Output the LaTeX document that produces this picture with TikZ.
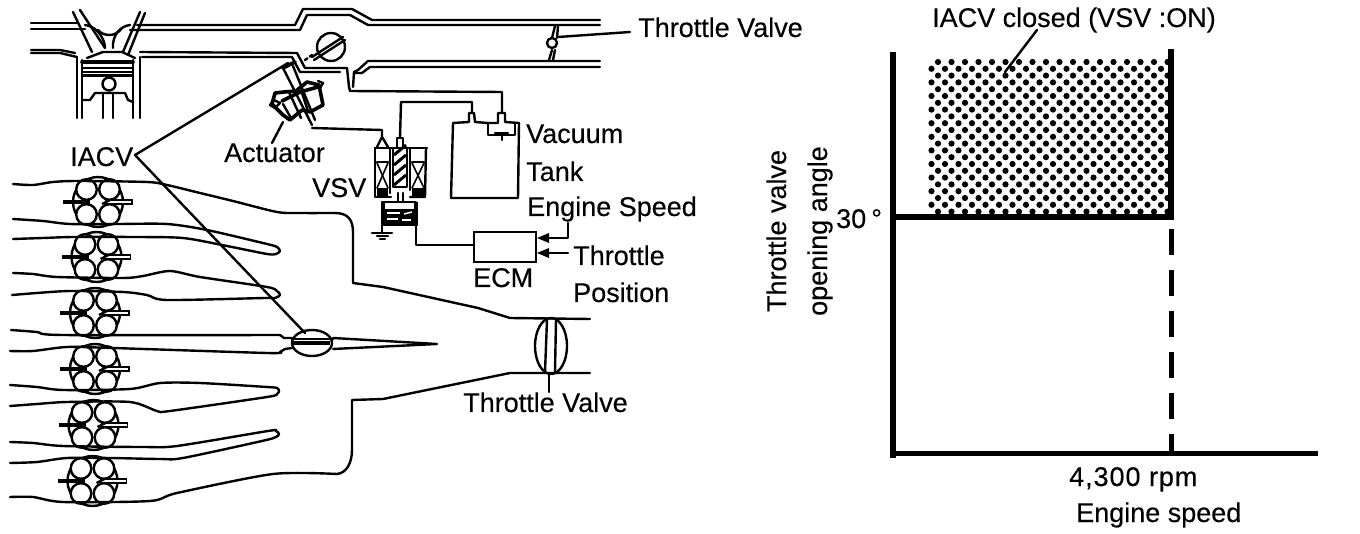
\documentclass[tikz,border=0pt]{standalone}
\usepackage{fontspec}
\setmainfont[FakeBold=0.3]{Liberation Sans}
\tikzset{
  ln/.style={line width=2.4pt,line join=round,line cap=round},
  thn/.style={line width=1.6pt,line join=round,line cap=round},
  hvy/.style={line width=3.6pt,line join=round,line cap=round},
  lab/.style={inner sep=0pt,anchor=base west,font=\fontsize{27}{30}\selectfont},
  labr/.style={inner sep=0pt,anchor=base,rotate=90,font=\fontsize{27}{30}\selectfont},
  axis/.style={line width=6pt},
  rnr/.style={ln,smooth,tension=.45},
}
\newcommand{\cylgroup}[2]{%
  \begin{scope}[shift={(#1,#2)}]
    \draw[line width=2.4pt] (0,0) circle[radius=25pt];
    \foreach \a/\b in {-11.5/-12.5,11.5/-12.5,-11.5/12.5,11.5/12.5}
      \draw[line width=2.4pt,fill=white] (\a,\b) circle[radius=10.3pt];
    \draw[line width=4.5pt] (-35,0) -- (-8,0);
    \draw[line width=1.6pt,fill=white] (8,-2) -- (34,-2) -- (34,2) -- (8,2) -- cycle;
    \draw[line width=2.4pt] (4,2) -- (12,-2);
  \end{scope}}
\begin{document}
\begin{tikzpicture}[x=1pt,y=-1pt]
\useasboundingbox (0,0) rectangle (1360,534);
% ---- head and manifold
\draw[ln] (31,23) -- (77,23);
\draw[ln] (31,29) -- (85,29);
\draw[ln] (137,25) -- (295,25) -- (303,9) -- (352,9) -- (372,20) -- (600,20);
\draw[ln] (130,30) -- (300,30) -- (307,15) -- (350,15) -- (368,25) -- (600,25);
\draw[ln] (31,50) -- (60,50) -- (75,53);
\draw[ln] (31,53) -- (60,53) -- (77,57);
\draw[ln] (140,52) -- (297,53) -- (305,68) -- (347,68) -- (349,87) -- (350,91) -- (502,92) -- (502,113);
\draw[ln] (142,57) -- (292,57) -- (300,72) -- (340,72);
\draw[ln] (600,61) -- (368,61) -- (358,70) -- (354,72) -- (353,87);
\draw[ln] (600,67) -- (370,67) -- (362,73) -- (355,73);
% valves
\draw[ln] (73,12) -- (92,52); \draw[ln] (80,10) -- (105,48);
\draw[ln] (140,12) -- (123,52); \draw[ln] (145,13) -- (128,55);
\draw[ln] (85,25) .. controls (95,26) and (104,36) .. (105,47);
\draw[ln] (130,25) .. controls (120,26) and (112,36) .. (113,48);
\draw[ln] (98,30) .. controls (103,36) and (115,38) .. (122,28);
\draw[ln] (87,58) -- (103,52) -- (122,52) -- (135,58);
% cylinder and piston
\draw[ln] (77,57) -- (77,118); \draw[ln] (82,60) -- (82,118);
\draw[ln] (133,60) -- (133,118); \draw[ln] (140,57) -- (140,118);
\draw[hvy] (82,62) -- (133,62);
\draw[ln] (82,68) -- (133,68); \draw[ln] (82,72) -- (133,72);
\draw[ln] (82,75.5) -- (133,75.5);
\draw[ln] (82,100) -- (90,100) -- (95,93) -- (125,93) -- (128,100) -- (133,102);
\draw[ln,fill=white] (109,84) circle[radius=6.5pt];
\draw[ln] (103,93) -- (103,118); \draw[ln] (113,93) -- (113,118);
% top butterfly
\draw[ln] (331,47) circle[radius=14pt];
\draw[ln] (312,57) -- (343,37); \draw[ln] (314,60) -- (345,40);
\draw[ln,dash pattern=on 3pt off 3pt] (305,60) -- (312,55);
% top throttle valve
\draw[ln] (555,26) -- (552,38); \draw[ln] (558,26) -- (557,38);
\draw[ln] (552,50) -- (549,60); \draw[ln] (555,50) -- (553,60);
\draw[ln] (552,43) circle[radius=5pt];
\coordinate (tvtip) at (558,37);
% actuator
\draw[hvy,fill=white] (272,104) -- (275,93) -- (284,92) -- (296,91) -- (307,82) -- (319,85) -- (323,105) -- (310,112) -- (302,110) -- (290,120) -- (283,115) -- cycle;
\draw[ln] (270,105) -- (275,108) -- (280,103) -- (274,100) -- cycle;
\draw[ln] (320,88) -- (323,83) -- (318,81);
\draw[hvy] (282,101) -- (300,92) -- (318,87);
\draw[ln] (283,104) -- (291,118);
\draw[ln] (302,93) -- (308,111);
\draw[ln] (283,68) -- (312,125);
\draw[ln] (293,66) -- (315,120);
\draw[ln] (289,92) -- (301,118);
\draw[hvy] (283,68) -- (295,62);
\draw[ln] (312,128) -- (382,130) -- (382,137) -- (377,147);
\draw[ln] (382,137) -- (388,147);
\coordinate (actfoot) at (283,122);
% ---- VSV
\draw[ln] (375,148) -- (427,148);
\draw[ln] (375,148) -- (375,197) -- (391,197);
\draw[ln] (426,148) -- (425,197) -- (410,197);
\draw[ln] (390,148) -- (390,193); \draw[ln] (410,148) -- (410,190);
\foreach \xa/\xb in {377/388,412/424}{
  \draw[ln] (\xa,162) -- (\xb,162);
  \draw[thn] (\xa,163) -- (\xb,188); \draw[thn] (\xb,163) -- (\xa,188);
  \fill (\xa,188) -- (\xb,188) -- (\xb,197) -- (\xa,197) -- cycle;
}
\draw[ln,fill=white] (393,148) rectangle (407,187);
\foreach \s in {155,165,175,185}
  \draw[line width=3pt] (394,\s) -- (406,\s-10);
\draw[ln] (397,147) -- (397,138) -- (403,138) -- (403,147);
\draw[ln] (400,138) -- (401,102) -- (472,102) -- (472,112);
\draw[ln] (398,193) -- (398,202); \draw[ln] (403,193) -- (403,202);
\draw[ln] (382,202) rectangle (416,225);
\fill (382,209) rectangle (416,226);
\fill (381,202) rectangle (385,226); \fill (414,202) rectangle (418,226);
\draw[line width=1.5pt,white] (387,213) -- (400,213); \draw[line width=1.5pt,white] (404,214) -- (412,212);
\draw[line width=1.5pt,white] (387,219) -- (398,219); \draw[line width=1.5pt,white] (402,220) -- (411,220);
\draw[ln] (382,225) -- (382,233);
\draw[ln] (372,233) -- (392,233); \draw[ln] (377,236) -- (388,236); \draw[ln] (380,239) -- (385,239);
\draw[ln] (416,225) -- (416,245) -- (474,245);
% tank
\draw[ln] (519,123) -- (518,198) -- (451,198) -- (453,123) -- (469,122) -- (469,113) -- (474,113) -- (475,122) -- (488,123);
\draw[ln] (488,123) -- (488,135) -- (515,135) -- (515,123);
\draw[ln] (488,123) -- (498,123) -- (498,113) -- (505,113) -- (505,122) -- (519,123);
\draw[ln] (495,133) -- (508,133); \draw[ln] (502,133) -- (502,140);
% ECM
\node[draw,line width=2.4pt,minimum width=62pt,minimum height=30pt,inner sep=0pt] (ecm) at (505,247) {};
\coordinate (es) at (568,223);
\coordinate (tp) at (568,253);
\draw[ln] (es) -- (568,238) -- (545,238);
\draw[ln] (tp) -- (545,253);
\fill (537,238) -- (549,233) -- (549,243) -- cycle;
\fill (537,253) -- (549,248) -- (549,258) -- cycle;
% ---- cylinders and runners
\cylgroup{98}{202}\cylgroup{96.5}{257}\cylgroup{95}{313}
\cylgroup{95}{369}\cylgroup{93.5}{425}\cylgroup{92.5}{481}
\draw[rnr] plot coordinates {(13,184)(33,185)(53,182)(77,181)(147,182)(167,185)(200,193)(233,201)(277,212)(300,213)(335,213)};
\draw[ln] (335,213) .. controls (348,213) and (353,220) .. (353,232) -- (353,283) -- (383,287) -- (478,308) -- (510,318) -- (590,319);
\draw[rnr] plot coordinates {(13,219)(43,221)(70,224)(117,224)(167,224)(207,230)(267,244)(277,247)(280,251)(276,254)(267,254)(227,246)(183,238)(133,237)(73,237)(43,238)(13,239)};
\draw[rnr] plot coordinates {(13,273)(33,274)(57,277)(123,278)(143,276)(170,271)(200,277)(267,287)(277,291)(280,295)(275,298)(265,298)(167,300)(147,295)(123,292)(70,291)(37,293)(12,295)};
\draw[rnr] plot coordinates {(11,330)(37,332)(63,335)(280,335)};
\draw[ln] (280,335) -- (284,338) -- (292,338);
\draw[rnr] plot coordinates {(10,351)(33,351)(67,347)(113,348)(267,353)(280,352)};
\draw[ln] (280,352) -- (285,349) -- (292,348);
\draw[rnr] plot coordinates {(10,385)(37,387)(63,390)(130,389)(160,383)(200,383)(267,387)(277,388)(279,391)(277,394)(267,397)(170,411)(157,411)(130,402)(67,402)(37,404)(10,406)};
\draw[rnr] plot coordinates {(10,442)(33,443)(63,446)(143,447)(177,446)(268,431)(276,431)(279,434)(276,437)(262,441)(183,458)(160,459)(110,458)(67,458)(37,462)(10,463)};
\draw[rnr] plot coordinates {(10,497)(33,497)(63,502)(150,501)(177,493)(273,474)(337,474)};
\draw[ln] (337,474) .. controls (347,473) and (352,462) .. (352,450) -- (352,400) -- (383,399) -- (510,373) -- (590,373);
% center IACV
\draw[ln] (312,343) circle[x radius=20pt,y radius=13pt];
\fill (293,341) rectangle (330,345);
\draw[ln] (292,339) -- (333,339);
\draw[ln] (333,338) -- (437,344) -- (333,349);
% bottom throttle valve
\draw[ln] (551,346) circle[x radius=16pt,y radius=28pt];
\draw[ln] (547,320) -- (545,372); \draw[ln] (556,320) -- (555,372);
\coordinate (stemtop) at (549,373); \coordinate (stemend) at (549,392);
\draw[ln] (stemtop) -- (stemend);
% ---- labels
\node[lab] (t1) at (638,37) {Throttle Valve};
\node[lab] (iacv) at (70,166) {IACV};
\node[lab] (act) at (224,162) {Actuator};
\node[lab] (vsv) at (312,197) {VSV};
\node[lab] (vac) at (526,143) {Vacuum};
\node[lab] (tank) at (526,181) {Tank};
\node[lab] (eng) at (527,216) {Engine Speed};
\node[lab] (thr) at (573,265) {Throttle};
\node[lab] (pos) at (573,302) {Position};
\node[lab] (ecmt) at (473,287) {ECM};
\node[lab] (t2) at (463,412) {Throttle Valve};
\node[lab] (cl) at (932,27) {IACV closed (VSV :ON)};
\node[lab] (thirty) at (836,228) {30\kern5pt°};
\node[lab] (rpm) at (1069,486) {\addfontfeature{LetterSpace=3.5}4,300 rpm};
\node[lab] (es2) at (1076,522) {Engine speed};
\node[labr] (yl1) at (786,231) {Throttle valve};
\node[labr] (yl2) at (827,231) {opening angle};
% ---- leaders
\coordinate (iacvapex) at (135,155);
\draw[ln] (288,63) -- (iacvapex) -- (305,333);
\draw[ln] (actfoot) -- (272,143);
\draw[ln] (tvtip) -- (630,32);
% ---- chart
\foreach \r in {0,...,22}{
  \pgfmathsetmacro{\ys}{62+\r*6.8}
  \pgfmathsetmacro{\xs}{mod(\r,2)==0 ? 938 : 931.5}
  \foreach \c in {0,...,17}{
    \pgfmathsetmacro{\xx}{\xs+\c*13.5}
    \ifdim\xx pt<1170pt \fill (\xx,\ys) circle[radius=3.1pt];\fi
  }
}
\coordinate (axtop) at (893,52);
\coordinate (axorg) at (893,458);
\coordinate (axend) at (1318,453);
\draw[axis] (axtop) -- (axorg);
\draw[line width=5pt] (890,453) -- (axend);
\draw[axis] (893,217) -- (1171,217);
\draw[axis] (1171,49) -- (1171,220);
\draw[line width=5pt,dash pattern=on 26pt off 15pt] (1171,229) -- (1171,452);
\draw[ln] (1037,30) -- (1005,72);
\end{tikzpicture}
\end{document}
